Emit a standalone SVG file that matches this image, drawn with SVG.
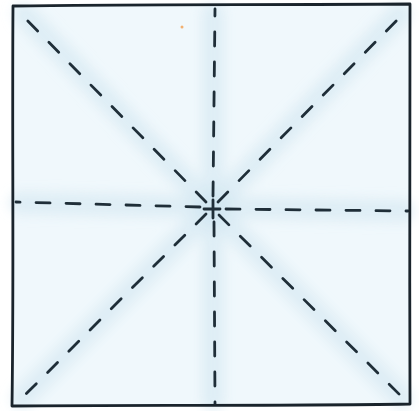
<svg xmlns="http://www.w3.org/2000/svg" width="419" height="411" viewBox="0 0 419 411">
<defs>
<filter id="soft" x="-10%" y="-10%" width="120%" height="120%"><feGaussianBlur stdDeviation="6"/></filter>
</defs>
<style>
.band{stroke:#cfe6f1;stroke-width:22;stroke-linecap:round;fill:none;opacity:0.55}
.dash{stroke:#1f2e38;stroke-width:2.8;stroke-dasharray:14 16;stroke-linecap:round;fill:none}
.edge{stroke:#1a242c;stroke-width:2.8;fill:none;stroke-linejoin:round}
</style>
<rect width="419" height="411" fill="#ffffff"/>
<g id="square-fill">
<path d="M13,5 L410,5 L410,405 L13,407 Z" fill="#f0f8fc"/>
</g>
<g id="bands" filter="url(#soft)">
<path class="band" d="M212,208 L24,14"/>
<path class="band" d="M212,208 L400,14"/>
<path class="band" d="M212,208 L22,398"/>
<path class="band" d="M212,208 L402,398"/>
<path class="band" d="M213,14 L213,400"/>
<path class="band" d="M20,203 L404,211"/>
</g>
<g id="connectors">
<path class="dash" d="M206,202 L20,13"/>
<path class="dash" d="M218,202 L404,13"/>
<path class="dash" d="M206,214 L18,402"/>
<path class="dash" d="M219,215 L406,401"/>
<path class="dash" d="M213,196 L215,9"/>
<path class="dash" d="M214,222 L215,404"/>
<path class="dash" d="M200,207 L16,202"/>
<path class="dash" d="M226,209 L408,211"/>
<path class="dash" style="stroke-dasharray:none" d="M213,200 L213,218 M204,209 L220,209"/>
</g>
<g id="square">
<path class="edge" d="M13,6 C120,4 260,5 410,4 C411,130 409,270 410,404 C280,406 140,405 12,406 C14,270 12,140 13,6 Z"/>
</g>
<circle cx="182" cy="27" r="1.5" fill="#f2b070"/>
</svg>
